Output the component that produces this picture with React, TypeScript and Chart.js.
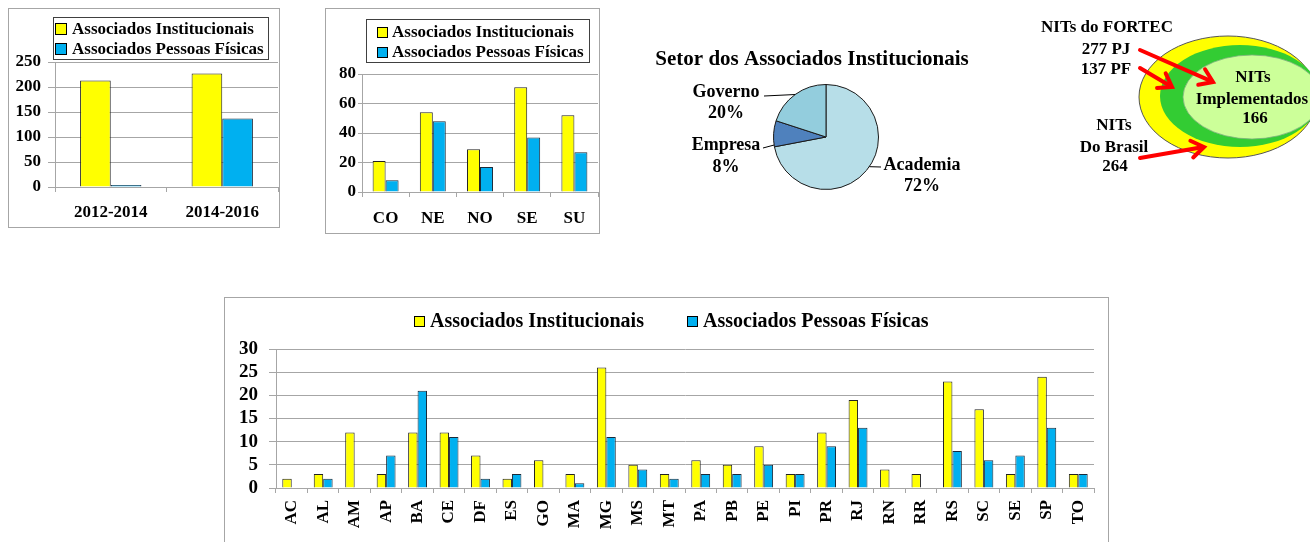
import { useEffect, useRef } from 'react';
import { Chart, registerables } from 'chart.js';

Chart.register(...registerables);

const FONT = "'Liberation Serif', 'Times New Roman', serif";
const YELLOW = '#FFFF00';
const BLUE = '#00B0F0';
const GRID = '#A6A6A6';

const seriesLabels = ['Associados Institucionais', 'Associados Pessoas Físicas'];

// Chart 1: by period
const periodCategories = ['2012-2014', '2014-2016'];
const periodInstitucionais = [213, 227];
const periodPessoasFisicas = [1, 137];

// Chart 2: by region
const regionCategories = ['CO', 'NE', 'NO', 'SE', 'SU'];
const regionInstitucionais = [21, 54, 29, 71, 52];
const regionPessoasFisicas = [8, 48, 17, 37, 27];

// Pie: sector
const sectorTitle = 'Setor dos Associados Institucionais';
const sectorLabels = ['Academia', 'Empresa', 'Governo'];
const sectorValues = [72, 8, 20];
const sectorColors = ['#B7DEE8', '#4F81BD', '#93CDDD'];

// Bottom chart: by state
const stateCategories = ['AC', 'AL', 'AM', 'AP', 'BA', 'CE', 'DF', 'ES', 'GO', 'MA', 'MG', 'MS', 'MT', 'PA', 'PB', 'PE', 'PI', 'PR', 'RJ', 'RN', 'RR', 'RS', 'SC', 'SE', 'SP', 'TO'];
const stateInstitucionais = [2, 3, 12, 3, 12, 12, 7, 2, 6, 3, 26, 5, 3, 6, 5, 9, 3, 12, 19, 4, 3, 23, 17, 3, 24, 3];
const statePessoasFisicas = [0, 2, 0, 7, 21, 11, 2, 3, 0, 1, 11, 4, 2, 3, 3, 5, 3, 9, 13, 0, 0, 8, 6, 7, 13, 3];

type LegendCfg = {
  frame?: { x: number; y: number; w: number; h: number };
  items: { x: number; y: number }[];
  box: number;
  gap: number;
  fontSize: number;
};

function makeBoxLegend(cfg: LegendCfg) {
  return {
    id: 'boxLegend',
    afterDraw(chart: any) {
      const ctx = chart.ctx as CanvasRenderingContext2D;
      ctx.save();
      if (cfg.frame) {
        ctx.strokeStyle = '#404040';
        ctx.lineWidth = 1;
        ctx.strokeRect(cfg.frame.x + 0.5, cfg.frame.y + 0.5, cfg.frame.w, cfg.frame.h);
      }
      ctx.font = `bold ${cfg.fontSize}px ${FONT}`;
      ctx.textBaseline = 'middle';
      ctx.textAlign = 'left';
      chart.data.datasets.forEach((ds: any, i: number) => {
        const p = cfg.items[i];
        const s = cfg.box;
        ctx.fillStyle = ds.backgroundColor;
        ctx.fillRect(p.x, Math.round(p.y - s / 2), s, s);
        ctx.strokeStyle = '#000';
        ctx.lineWidth = 1;
        ctx.strokeRect(p.x + 0.5, Math.round(p.y - s / 2) + 0.5, s - 1, s - 1);
        ctx.fillStyle = '#000';
        ctx.fillText(ds.label, p.x + s + cfg.gap, p.y + 1);
      });
      ctx.restore();
    },
  };
}

type BarCfg = {
  categories: string[];
  inst: number[];
  pf: number[];
  yMax: number;
  yStep: number;
  yAxisWidth: number;
  xAxisHeight: number;
  padTop: number;
  padRight: number;
  yFont: number;
  yTickLength: number;
  yPadding: number;
  xFont: number;
  xPadding: number;
  rotate: boolean;
  catPct: number;
  pfMinLength?: number;
  legend: LegendCfg;
};

function barConfig(c: BarCfg): any {
  return {
    type: 'bar',
    data: {
      labels: c.categories,
      datasets: [
        { label: seriesLabels[0], data: c.inst, backgroundColor: YELLOW, borderColor: '#222', borderWidth: 1, borderSkipped: 'bottom' },
        {
          label: seriesLabels[1],
          data: c.pf,
          backgroundColor: BLUE,
          borderColor: '#1a2a3a',
          borderWidth: 1,
          borderSkipped: 'bottom',
          minBarLength: c.pfMinLength || 0,
        },
      ],
    },
    options: {
      animation: false,
      responsive: true,
      maintainAspectRatio: false,
      layout: { padding: { top: c.padTop, right: c.padRight, left: 0, bottom: 0 } },
      datasets: { bar: { categoryPercentage: c.catPct, barPercentage: 1 } },
      plugins: { legend: { display: false }, tooltip: { enabled: false } },
      scales: {
        x: {
          grid: { display: true, offset: true, drawOnChartArea: false, drawTicks: true, tickLength: 5, color: GRID },
          border: { display: true, color: GRID },
          ticks: {
            font: { family: FONT, size: c.xFont, weight: 'bold' },
            color: '#000',
            padding: c.xPadding,
            autoSkip: false,
            maxRotation: c.rotate ? 90 : 0,
            minRotation: c.rotate ? 90 : 0,
          },
          afterFit: (s: any) => { s.height = c.xAxisHeight; },
        },
        y: {
          min: 0,
          max: c.yMax,
          ticks: {
            stepSize: c.yStep,
            autoSkip: false,
            font: { family: FONT, size: c.yFont, weight: 'bold' },
            color: '#000',
            padding: c.yPadding,
          },
          grid: { color: GRID, drawTicks: true, tickLength: c.yTickLength },
          border: { display: true, color: GRID },
          afterFit: (s: any) => { s.width = c.yAxisWidth; },
        },
      },
    },
    plugins: [makeBoxLegend(c.legend)],
  };
}

type PieLabel = { lines: string[]; cx: number; ys: number[]; start: [number, number]; frac: number };

const pieLabelLayout: PieLabel[] = [
  { lines: [sectorLabels[0], sectorValues[0] + '%'], cx: 292, ys: [135, 156], start: [251, 137], frac: 0.48 },
  { lines: [sectorLabels[1], sectorValues[1] + '%'], cx: 96, ys: [115, 137], start: [133, 118], frac: 0.07 },
  { lines: [sectorLabels[2], sectorValues[2] + '%'], cx: 96, ys: [62, 83], start: [134, 66], frac: 0.5 },
];

const pieExtras = {
  id: 'pieExtras',
  afterDraw(chart: any) {
    const ctx = chart.ctx as CanvasRenderingContext2D;
    const meta = chart.getDatasetMeta(0);
    ctx.save();
    ctx.fillStyle = '#000';
    ctx.textAlign = 'center';
    ctx.textBaseline = 'middle';
    ctx.font = `bold 21px ${FONT}`;
    ctx.fillText(sectorTitle, 182, 30);
    ctx.font = `bold 18px ${FONT}`;
    pieLabelLayout.forEach((l, i) => {
      const el = meta.data[i];
      const a = el.startAngle + (el.endAngle - el.startAngle) * l.frac;
      const px = el.x + Math.cos(a) * el.outerRadius;
      const py = el.y + Math.sin(a) * el.outerRadius;
      ctx.strokeStyle = '#000';
      ctx.lineWidth = 1;
      ctx.beginPath();
      ctx.moveTo(l.start[0], l.start[1]);
      ctx.lineTo(px, py);
      ctx.stroke();
      l.lines.forEach((t, j) => ctx.fillText(t, l.cx, l.ys[j]));
    });
    ctx.restore();
  },
};

function pieConfig(): any {
  return {
    type: 'pie',
    data: {
      labels: sectorLabels,
      datasets: [{ data: sectorValues, backgroundColor: sectorColors, borderColor: '#1a1a1a', borderWidth: 1 }],
    },
    options: {
      animation: false,
      responsive: true,
      maintainAspectRatio: false,
      layout: { padding: { left: 143, right: 121, top: 54, bottom: 10 } },
      plugins: { legend: { display: false }, tooltip: { enabled: false }, title: { display: false } },
    },
    plugins: [pieExtras],
  };
}

function ChartBox(props: { left: number; top: number; width: number; height: number; border: boolean; make: () => any }) {
  const ref = useRef<HTMLCanvasElement>(null);
  useEffect(() => {
    const chart = new Chart(ref.current as HTMLCanvasElement, props.make());
    return () => chart.destroy();
  }, []);
  return (
    <div
      style={{
        position: 'absolute',
        left: props.left,
        top: props.top,
        width: props.width,
        height: props.height,
        boxSizing: 'border-box',
        border: props.border ? '1px solid #A6A6A6' : 'none',
        background: '#fff',
      }}
    >
      <div style={{ position: 'absolute', left: 0, top: 0, right: 0, bottom: 0 }}>
        <canvas ref={ref} />
      </div>
    </div>
  );
}

function Arrow({ x1, y1, x2, y2 }: { x1: number; y1: number; x2: number; y2: number }) {
  const ang = Math.atan2(y2 - y1, x2 - x1);
  const L = 15;
  const spread = 0.6;
  const ax = x2 - L * Math.cos(ang - spread);
  const ay = y2 - L * Math.sin(ang - spread);
  const bx = x2 - L * Math.cos(ang + spread);
  const by = y2 - L * Math.sin(ang + spread);
  return (
    <g stroke="#FF0000" strokeWidth={4} strokeLinecap="round" fill="none">
      <line x1={x1} y1={y1} x2={x2 - 2 * Math.cos(ang)} y2={y2 - 2 * Math.sin(ang)} />
      <polyline points={`${ax},${ay} ${x2},${y2} ${bx},${by}`} strokeLinejoin="miter" />
    </g>
  );
}

function NitsDiagram() {
  const t = { fontFamily: FONT, fontWeight: 'bold' as const, fontSize: 17, fill: '#000', textAnchor: 'middle' as const, dominantBaseline: 'central' as const };
  return (
    <svg width={1310} height={200} style={{ position: 'absolute', left: 0, top: 0 }}>
      <ellipse cx={1228} cy={97} rx={89} ry={61} fill="#FFFF00" stroke="#555" strokeWidth={1} />
      <ellipse cx={1240} cy={96} rx={80} ry={51} fill="#33CC33" />
      <ellipse cx={1252} cy={97} rx={69} ry={42} fill="#CCFF99" stroke="#7FB07F" strokeWidth={0.8} />
      <text {...t} x={1107} y={26}>NITs do FORTEC</text>
      <text {...t} x={1106} y={48}>277 PJ</text>
      <text {...t} x={1106} y={68}>137 PF</text>
      <text {...t} x={1253} y={76}>NITs</text>
      <text {...t} x={1252} y={98}>Implementados</text>
      <text {...t} x={1255} y={117}>166</text>
      <text {...t} x={1114} y={124}>NITs</text>
      <text {...t} x={1114} y={146}>Do Brasil</text>
      <text {...t} x={1115} y={165}>264</text>
      <Arrow x1={1140} y1={50} x2={1213} y2={82} />
      <Arrow x1={1140} y1={68} x2={1172} y2={87} />
      <Arrow x1={1140} y1={158} x2={1204} y2={147} />
    </svg>
  );
}

export default function App() {
  return (
    <div style={{ position: 'absolute', left: 0, top: 0, width: 1310, height: 542, overflow: 'hidden', background: '#fff' }}>
      <ChartBox
        left={8}
        top={8}
        width={272}
        height={220}
        border
        make={() =>
          barConfig({
            categories: periodCategories,
            inst: periodInstitucionais,
            pf: periodPessoasFisicas,
            yMax: 250,
            yStep: 50,
            yAxisWidth: 46,
            xAxisHeight: 40,
            padTop: 53,
            padRight: 1,
            yFont: 17,
            yTickLength: 7,
            yPadding: 7,
            xFont: 17,
            xPadding: 10,
            rotate: false,
            catPct: 0.55,
            pfMinLength: 2,
            legend: { frame: { x: 44, y: 8, w: 215, h: 42 }, items: [{ x: 46, y: 20 }, { x: 46, y: 40 }], box: 12, gap: 5, fontSize: 17 },
          })
        }
      />
      <ChartBox
        left={325}
        top={8}
        width={275}
        height={226}
        border
        make={() =>
          barConfig({
            categories: regionCategories,
            inst: regionInstitucionais,
            pf: regionPessoasFisicas,
            yMax: 80,
            yStep: 20,
            yAxisWidth: 36,
            xAxisHeight: 41,
            padTop: 65,
            padRight: 1,
            yFont: 17,
            yTickLength: 4,
            yPadding: 2,
            xFont: 17,
            xPadding: 11,
            rotate: false,
            catPct: 0.55,
            legend: { frame: { x: 40, y: 10, w: 223, h: 43 }, items: [{ x: 51, y: 23 }, { x: 51, y: 43 }], box: 11, gap: 4, fontSize: 17 },
          })
        }
      />
      <ChartBox left={630} top={30} width={370} height={170} border={false} make={pieConfig} />
      <ChartBox
        left={224}
        top={297}
        width={885}
        height={262}
        border
        make={() =>
          barConfig({
            categories: stateCategories,
            inst: stateInstitucionais,
            pf: statePessoasFisicas,
            yMax: 30,
            yStep: 5,
            yAxisWidth: 51,
            xAxisHeight: 70,
            padTop: 51,
            padRight: 14,
            yFont: 19,
            yTickLength: 7,
            yPadding: 11,
            xFont: 17,
            xPadding: 7,
            rotate: true,
            catPct: 0.6,
            legend: { items: [{ x: 189, y: 23 }, { x: 462, y: 23 }], box: 11, gap: 5, fontSize: 20 },
          })
        }
      />
      <NitsDiagram />
    </div>
  );
}
